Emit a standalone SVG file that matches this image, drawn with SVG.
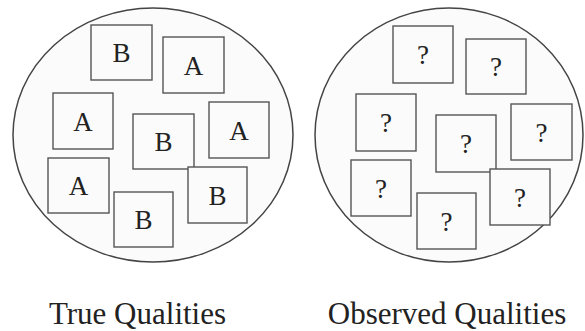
<svg xmlns="http://www.w3.org/2000/svg" width="585" height="331" viewBox="0 0 585 331">
<style>
.set{fill:#fbfbfb;stroke:#444;stroke-width:1.5}
.box{fill:#fbfbfb;stroke:#555;stroke-width:1.4}
.lt{font-family:"Liberation Serif","Times New Roman",serif;font-size:27px;fill:#222;text-anchor:middle}
.cap{font-family:"Liberation Serif","Times New Roman",serif;font-size:31px;fill:#222;text-anchor:middle}
</style>
<rect width="585" height="331" fill="#fff"/>
<g id="true-set">
<ellipse class="set" cx="153" cy="135" rx="140" ry="127"/>
</g>
<g id="obs-set">
<ellipse class="set" cx="449" cy="135" rx="134" ry="127"/>
</g>
<g id="t1"><rect class="box" x="91" y="25" width="61" height="55"/><text class="lt" x="121.5" y="62">B</text></g>
<g id="t2"><rect class="box" x="163" y="37" width="61" height="56"/><text class="lt" x="193.5" y="74.5">A</text></g>
<g id="t3"><rect class="box" x="53" y="93" width="60" height="56"/><text class="lt" x="83" y="130.5">A</text></g>
<g id="t4"><rect class="box" x="133" y="114" width="61" height="55"/><text class="lt" x="163.5" y="151">B</text></g>
<g id="t5"><rect class="box" x="209" y="102" width="60" height="56"/><text class="lt" x="239" y="139.5">A</text></g>
<g id="t6"><rect class="box" x="48" y="158" width="61" height="55"/><text class="lt" x="78.5" y="195">A</text></g>
<g id="t7"><rect class="box" x="188" y="167" width="59" height="56"/><text class="lt" x="217.5" y="204.5">B</text></g>
<g id="t8"><rect class="box" x="114" y="192" width="59" height="55"/><text class="lt" x="143.5" y="229">B</text></g>
<g id="o1"><rect class="box" x="393" y="26" width="60" height="57"/><text class="lt" x="423" y="64">?</text></g>
<g id="o2"><rect class="box" x="466" y="39" width="60" height="55"/><text class="lt" x="496" y="76">?</text></g>
<g id="o3"><rect class="box" x="356" y="94" width="60" height="57"/><text class="lt" x="386" y="132">?</text></g>
<g id="o4"><rect class="box" x="436" y="115" width="60" height="57"/><text class="lt" x="466" y="153">?</text></g>
<g id="o5"><rect class="box" x="511" y="104" width="61" height="56"/><text class="lt" x="541.5" y="141.5">?</text></g>
<g id="o6"><rect class="box" x="351" y="160" width="60" height="56"/><text class="lt" x="381" y="197.5">?</text></g>
<g id="o7"><rect class="box" x="490" y="169" width="60" height="56"/><text class="lt" x="520" y="206.5">?</text></g>
<g id="o8"><rect class="box" x="417" y="193" width="59" height="56"/><text class="lt" x="446.5" y="230.5">?</text></g>
<g id="connectors"></g>
<g id="labels">
<text class="cap" x="137.5" y="324">True Qualities</text>
<text class="cap" x="447" y="324">Observed Qualities</text>
</g>
</svg>
